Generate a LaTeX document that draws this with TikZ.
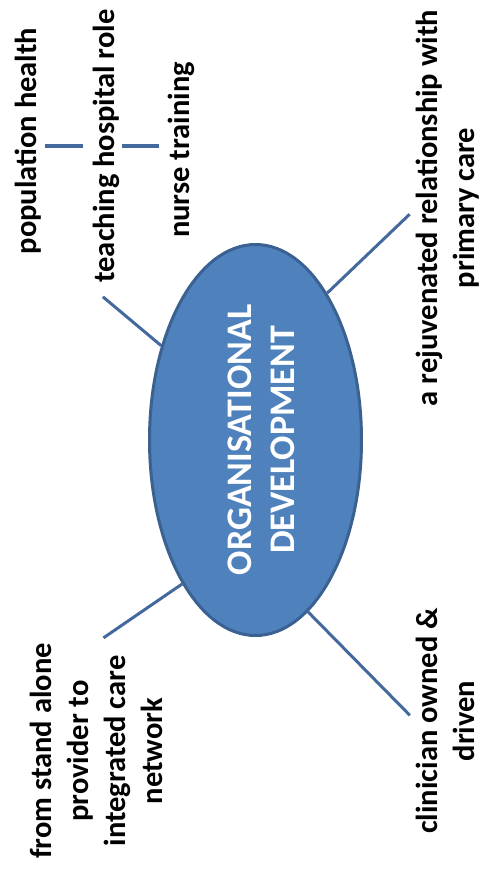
\documentclass[tikz,border=0pt]{standalone}
\usepackage{fontspec}
\setmainfont{Carlito}
\usetikzlibrary{shapes.geometric,calc}
\definecolor{odfill}{HTML}{4F81BD}
\definecolor{odedge}{HTML}{3A6190}
\definecolor{linkblue}{HTML}{44699C}
\begin{document}
\begin{tikzpicture}[x=1pt,y=-1pt,
  outer/.style={rotate=90, font=\fontsize{30.5}{37}\selectfont\bfseries,
    align=center, inner sep=0pt, text=black},
  link/.style={draw=linkblue, line width=3pt},
  tick/.style={draw=linkblue, line width=4pt}]
\useasboundingbox (0,0) rectangle (482,870);

% central ellipse and its title (title set a little right of centre)
\node[ellipse, fill=odfill, draw=odedge, line width=3pt,
      minimum width=212pt, minimum height=391pt, inner sep=0pt] (od) at (255.5,440) {};
\node[rotate=90, text=white, align=center, inner sep=0pt,
      font=\fontsize{36}{43}\selectfont\bfseries] (odtitle) at (261,440)
      {ORGANISATIONAL\\DEVELOPMENT};

% surrounding themes
\node[outer, anchor=base] (pop)   at (36,141)  {population health};
\node[outer, anchor=base] (teach) at (114,146) {teaching hospital role};
\node[outer, anchor=base] (nurse) at (189,150) {nurse training};
\node[outer] (rejuv) at (448,208) {a rejuvenated relationship with\\primary care};
\node[outer] (clin)  at (445,721) {clinician owned \&\\driven};
\node[outer] (integ) at (96,751)  {from stand alone\\provider to\\integrated care\\network};

% short ticks between the top themes
\draw[tick, shorten <=4pt, shorten >=9pt] (pop.south |- teach.center) -- (teach.north |- teach.center);
\draw[tick, shorten <=3pt, shorten >=8pt] (teach.south |- teach.center) -- (nurse.north |- teach.center);

% spokes from the ellipse
\draw[link] (od.135.8) -- ($(teach.west)+(-3,14)$);
\draw[link, shorten >=9pt] (od.64.8)  -- (rejuv.north);
\draw[link, shorten >=9pt] (od.-117.4)  -- (integ.east);
\draw[link, shorten >=8pt] (od.-73)   -- (clin.north);
\end{tikzpicture}
\end{document}
